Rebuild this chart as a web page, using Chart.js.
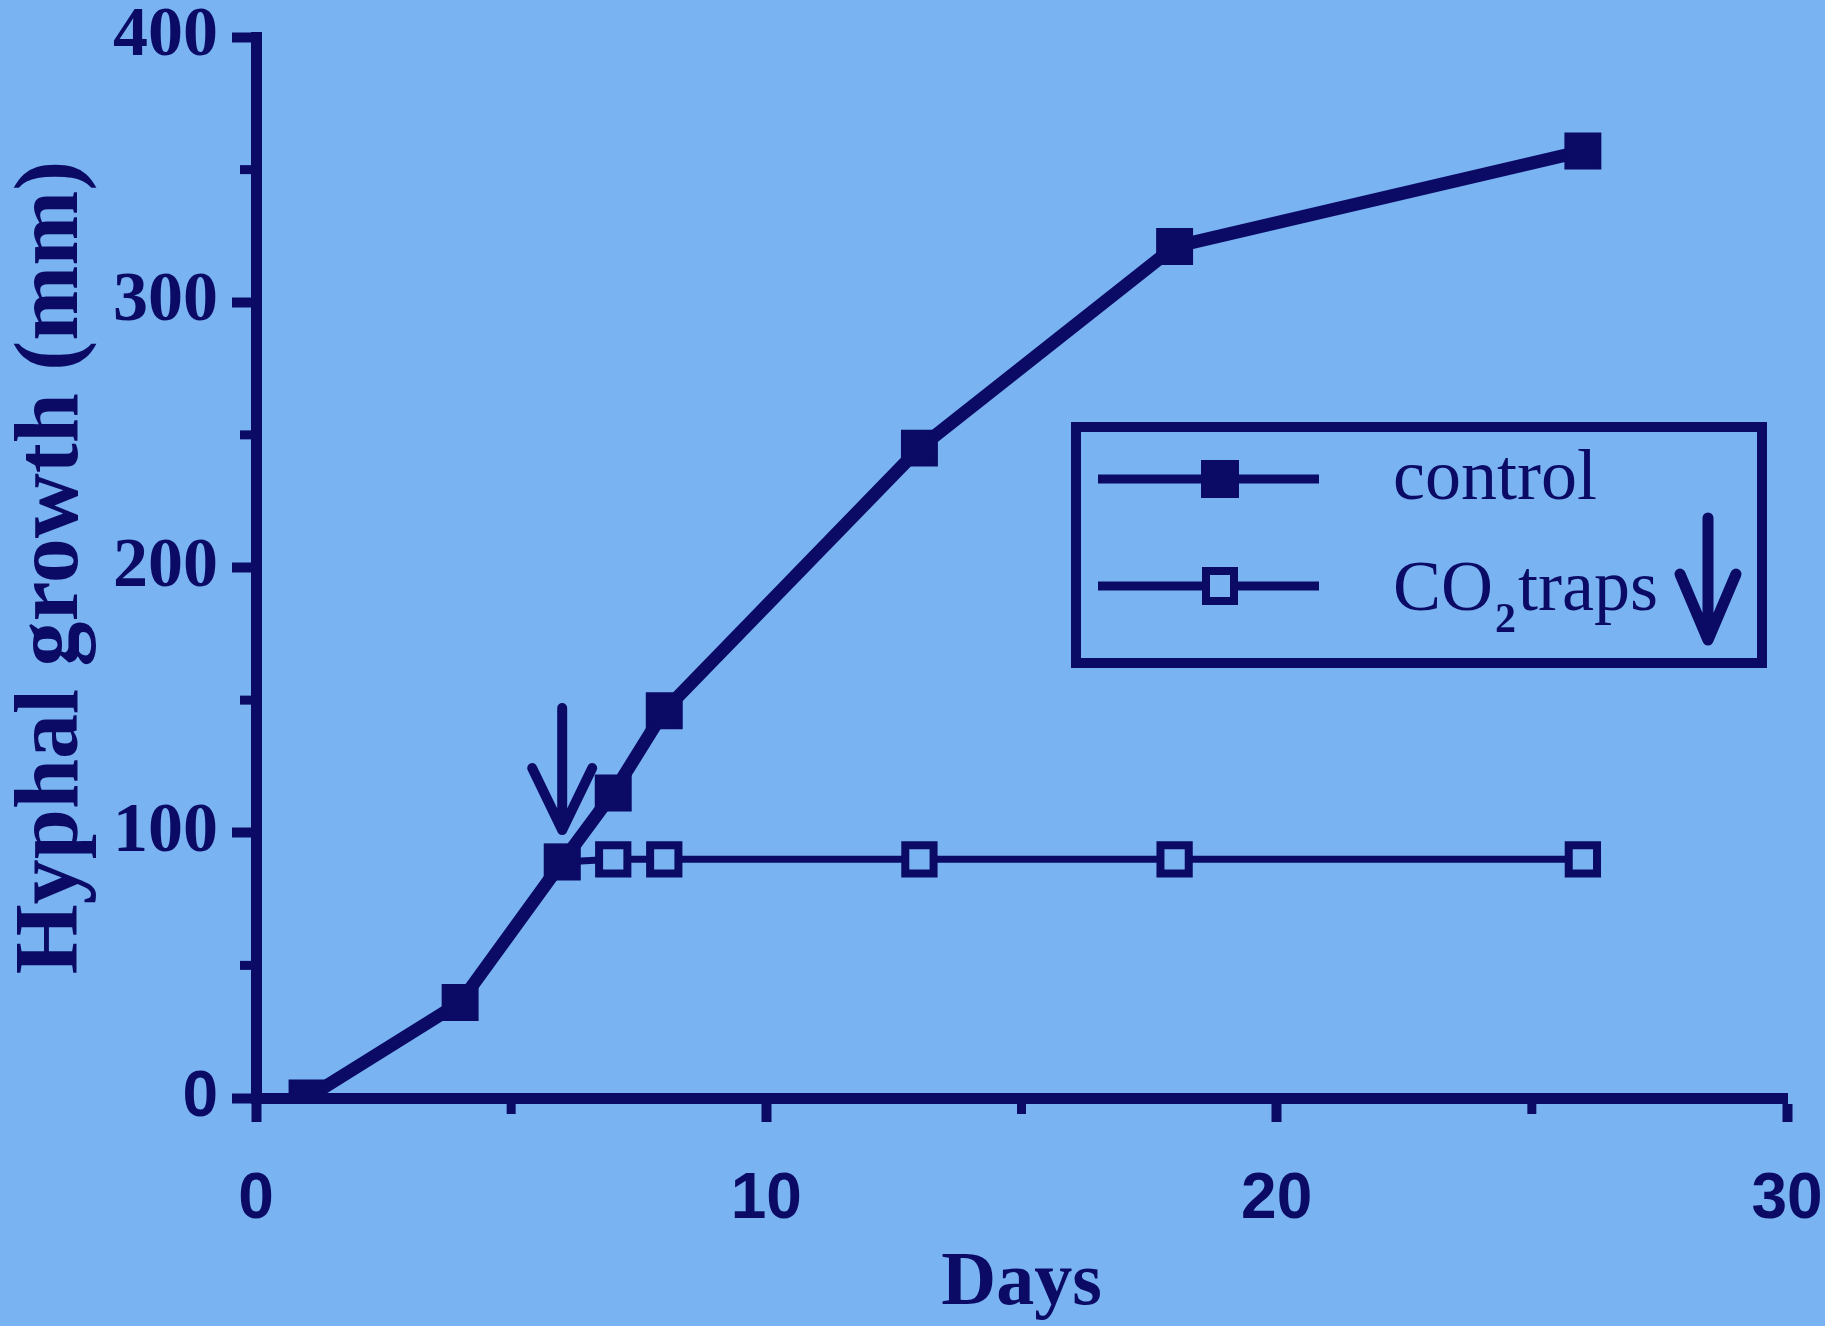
<!DOCTYPE html>
<html>
<head>
<meta charset="utf-8">
<script src="https://cdn.jsdelivr.net/npm/chart.js@4.4.1/dist/chart.umd.min.js"></script>
<style>
  html, body { margin: 0; padding: 0; background: #79b3f2; }
  canvas { display: block; }
</style>
</head>
<body>
<canvas id="growthChart" width="1825" height="1326"></canvas>
<script>
// data
const days = [1, 4, 6, 7, 8, 13, 18, 26];
const control = [0, 36, 89, 115, 146, 245, 321, 357];
const trapDays = [6, 7, 8, 13, 18, 26];
const traps = [89, 90, 90, 90, 90, 90];

const xTicks = [0, 10, 20, 30];
const yTicks = [0, 100, 200, 300, 400];
const xMinor = [5, 15, 25];
const yMinor = [50, 150, 250, 350];

// the arrow above day 6 (when the CO2 traps went in)
const arrowDay = 6;
const arrowFrom = 147;
const arrowTo = 101;

const ink = '#0b0b66';
const paper = '#79b3f2';

const serifBold = {family: '"Liberation Serif", "DejaVu Serif", serif', size: 70, weight: 'bold', lineHeight: 1};
const sansBold = {family: '"Liberation Sans", Arial, sans-serif', size: 64, weight: 'bold', lineHeight: 1};

// short ticks between the labelled ones
const minorTicks = {
   id: 'minorTicks',
   afterDraw(chart) {
      const {ctx, chartArea, scales} = chart;
      ctx.save();
      ctx.strokeStyle = ink;
      ctx.lineWidth = 9;
      yMinor.forEach(v => {
         const py = scales.y.getPixelForValue(v);
         ctx.beginPath();
         ctx.moveTo(chartArea.left - 16, py);
         ctx.lineTo(chartArea.left, py);
         ctx.stroke();
      });
      xMinor.forEach(v => {
         const px = scales.x.getPixelForValue(v);
         ctx.beginPath();
         ctx.moveTo(px, chartArea.bottom);
         ctx.lineTo(px, chartArea.bottom + 16);
         ctx.stroke();
      });
      ctx.restore();
   }
};

function downArrow(ctx, x, top, tip, wing, drop) {
   ctx.beginPath();
   ctx.moveTo(x, top);
   ctx.lineTo(x, tip);
   ctx.moveTo(x - wing, tip - drop);
   ctx.lineTo(x, tip);
   ctx.lineTo(x + wing, tip - drop);
   ctx.stroke();
}

// arrow on the plot + boxed legend
const annotations = {
   id: 'annotations',
   afterDatasetsDraw(chart) {
      const {ctx, scales} = chart;
      ctx.save();
      ctx.strokeStyle = ink;
      ctx.fillStyle = ink;
      ctx.lineWidth = 10;
      ctx.lineCap = 'round';
      ctx.lineJoin = 'round';
      const ax = scales.x.getPixelForValue(arrowDay);
      downArrow(ctx, ax, scales.y.getPixelForValue(arrowFrom), scales.y.getPixelForValue(arrowTo), 30, 62);

      // legend box
      ctx.lineCap = 'butt';
      ctx.lineJoin = 'miter';
      ctx.fillStyle = paper;
      ctx.lineWidth = 10;
      ctx.fillRect(1076, 427, 686, 236);
      ctx.strokeRect(1076, 427, 686, 236);

      const rows = [479, 586];
      ctx.lineWidth = 9;
      rows.forEach(ry => {
         ctx.beginPath();
         ctx.moveTo(1098, ry);
         ctx.lineTo(1319, ry);
         ctx.stroke();
      });
      ctx.fillStyle = ink;
      ctx.fillRect(1201, rows[0] - 19, 38, 38);
      ctx.fillStyle = paper;
      ctx.lineWidth = 8;
      ctx.fillRect(1206, rows[1] - 15, 28, 30);
      ctx.strokeRect(1206, rows[1] - 15, 28, 30);

      ctx.fillStyle = ink;
      ctx.textBaseline = 'alphabetic';
      ctx.font = '72px "Liberation Serif", serif';
      ctx.fillText('control', 1393, rows[0] + 20);
      ctx.fillText('CO', 1393, rows[1] + 24);
      let tx = 1393 + ctx.measureText('CO').width;
      ctx.font = 'bold 42px "Liberation Serif", serif';
      ctx.fillText('2', tx + 2, rows[1] + 46);
      tx += ctx.measureText('2').width + 4;
      ctx.font = '72px "Liberation Serif", serif';
      ctx.fillText('traps', tx, rows[1] + 24);

      ctx.lineWidth = 11;
      ctx.lineCap = 'round';
      ctx.lineJoin = 'round';
      downArrow(ctx, 1708, 518, 640, 28, 66);
      ctx.restore();
   }
};

const chart = new Chart(document.getElementById('growthChart'), {
   type: 'line',
   data: {
      datasets: [{
         label: 'control',
         data: days.map((d, i) => ({x: d, y: control[i]})),
         borderColor: ink,
         borderWidth: 13,
         pointStyle: 'rect',
         pointRadius: 24,
         pointBackgroundColor: ink,
         pointBorderColor: ink,
         pointBorderWidth: 3,
         tension: 0
      }, {
         label: 'CO2 traps',
         data: trapDays.map((d, i) => ({x: d, y: traps[i]})),
         borderColor: ink,
         borderWidth: 7,
         pointStyle: 'rect',
         pointRadius: 20,
         pointBackgroundColor: paper,
         pointBorderColor: ink,
         pointBorderWidth: 8,
         tension: 0
      }]
   },
   options: {
      responsive: false,
      animation: false,
      layout: {padding: {top: 37, right: 38, left: 0, bottom: 0}},
      plugins: {legend: {display: false}, tooltip: {enabled: false}},
      scales: {
         x: {
            type: 'linear',
            min: 0,
            max: 30,
            afterBuildTicks: scale => { scale.ticks = xTicks.map(v => ({value: v})); },
            afterFit: scale => {
               scale.height = 228;
               scale.paddingLeft = 0;
               scale.paddingRight = 0;
            },
            border: {display: true, color: ink, width: 11},
            grid: {drawOnChartArea: false, drawTicks: true, tickLength: 24, tickWidth: 10, tickColor: ink},
            ticks: {color: ink, font: sansBold, padding: 46},
            title: {
               display: true,
               text: 'Days',
               color: ink,
               font: {family: serifBold.family, size: 76, weight: 'bold', lineHeight: 1},
               padding: {top: 0, bottom: 4}
            }
         },
         y: {
            type: 'linear',
            min: 0,
            max: 400,
            afterBuildTicks: scale => { scale.ticks = yTicks.map(v => ({value: v})); },
            afterFit: scale => {
               scale.width = 256;
               scale.paddingTop = 0;
               scale.paddingBottom = 0;
            },
            border: {display: true, color: ink, width: 11},
            grid: {drawOnChartArea: false, drawTicks: true, tickLength: 24, tickWidth: 10, tickColor: ink},
            ticks: {
               color: ink,
               padding: 14,
               font: ctx => (ctx.tick && ctx.tick.value === 0) ? sansBold : serifBold
            },
            title: {
               display: true,
               text: 'Hyphal growth (mm)',
               color: ink,
               font: {family: serifBold.family, size: 90, weight: 'bold'},
               padding: {top: 0, bottom: 0}
            }
         }
      }
   },
   plugins: [minorTicks, annotations]
});
</script>
</body>
</html>
